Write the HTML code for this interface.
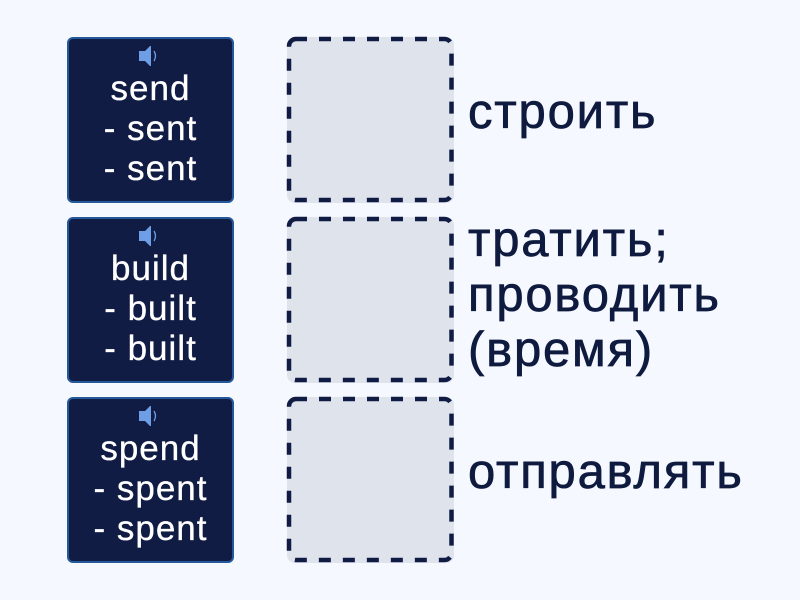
<!DOCTYPE html>
<html><head><meta charset="utf-8"><style>
html,body{margin:0;padding:0}
body{width:800px;height:600px;background:#f5f8fe;position:relative;overflow:hidden;font-family:"Liberation Sans","DejaVu Sans",sans-serif}
.card{position:absolute;left:67px;width:163px;height:162px;background:#111c45;border:2px solid #23599a;border-radius:6px}
.t{position:absolute;left:67px;width:167px;text-align:center;color:#fff;font-size:35px;line-height:40px;letter-spacing:1px;white-space:nowrap;-webkit-text-stroke:.3px #fff}
.r{position:absolute;left:468px;color:#0f1a3f;font-size:49px;line-height:55px;letter-spacing:1.8px;white-space:nowrap;-webkit-text-stroke:.7px #0f1a3f}
svg{position:absolute}
</style></head><body>
<svg width="800" height="600" style="left:0;top:0">
<defs><g id="s"><path d="M-10 -5H-4L1 -10H2V10H1L-4 5H-10Z" fill="#6d9ee6"/><path d="M5 -5Q8 0 5 5" stroke="#6d9ee6" stroke-width="1.3" fill="none"/></g></defs>
<g fill="#dfe3ec">
<rect x="287" y="37" width="167" height="166" rx="8"/>
<rect x="287" y="217" width="167" height="166" rx="8"/>
<rect x="287" y="397" width="167" height="166" rx="8"/>
</g>
<g fill="none" stroke="#111c45" stroke-width="4.5" stroke-dasharray="12 12" stroke-dashoffset="1">
<rect x="289" y="39" width="162.5" height="161" rx="7"/>
<rect x="289" y="219" width="162.5" height="161" rx="7"/>
<rect x="289" y="399" width="162.5" height="161" rx="7"/>
</g></svg>
<div class="card" style="top:37px"></div>
<div class="card" style="top:217px"></div>
<div class="card" style="top:397px"></div>
<svg width="800" height="600" style="left:0;top:0"><use href="#s" x="149" y="56"/><use href="#s" x="149" y="236"/><use href="#s" x="149" y="416"/></svg>
<div class="t" style="top:69px">send<br>- sent<br>- sent</div>
<div class="t" style="top:249px">build<br>- built<br>- built</div>
<div class="t" style="top:429px">spend<br>- spent<br>- spent</div>
<div class="r" style="top:85px">строить</div>
<div class="r" style="top:213px">тратить;<br>проводить<br>(время)</div>
<div class="r" style="top:445px">отправлять</div>
</body></html>
